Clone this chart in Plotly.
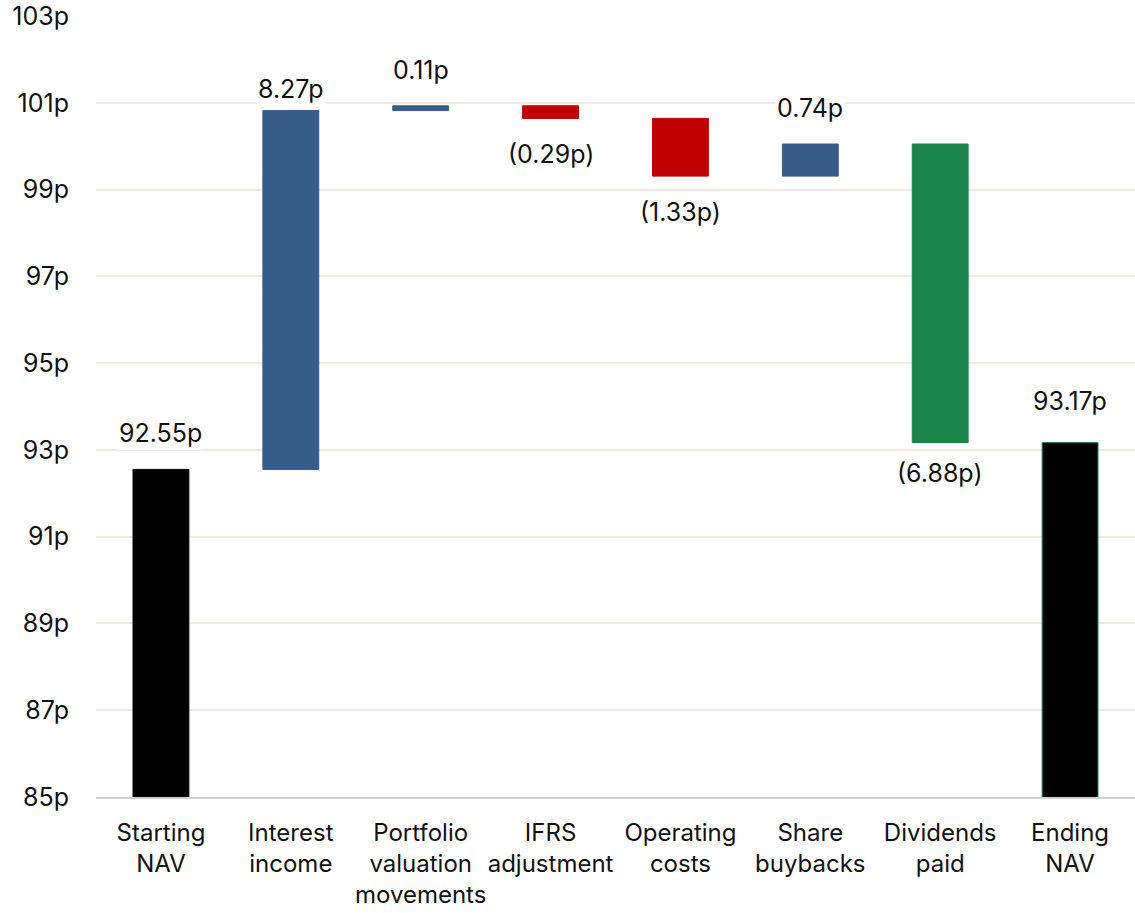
import plotly.graph_objects as go

categories = ["Starting<br>NAV", "Interest<br>income", "Portfolio<br>valuation<br>movements",
              "IFRS<br>adjustment", "Operating<br>costs", "Share<br>buybacks",
              "Dividends<br>paid", "Ending<br>NAV"]
values = [92.55, 8.27, 0.11, -0.29, -1.33, 0.74, -6.88, 93.17]
kinds = ["total", "relative", "relative", "relative", "relative", "relative", "relative", "total"]
bar_colors = ["#000000", "#365C8A", "#365C8A", "#C00000", "#C00000", "#365C8A", "#1A844A", "#000000"]
line_colors = ["#000000", "#365C8A", "#365C8A", "#C00000", "#C00000", "#365C8A", "#1A844A", "#1A844A"]
label_shift = [36, 22, 36, 36, 36, 36, 30, 42]

tick_vals = [85, 87, 89, 91, 93, 95, 97, 99, 101, 103]
tick_text = ["85p", "87p", "89p", "91p", "93p", "95p", "97p", "99p", "101p", "103p"]

bases, level = [], 0.0
for v, k in zip(values, kinds):
    if k == "total":
        bases.append(0.0)
        level = v
    else:
        bases.append(level)
        level = level + v

FONT = "Inter"
fig = go.Figure()
fig.add_trace(go.Bar(
    x=categories, y=values, base=bases,
    marker=dict(color=bar_colors, line=dict(color=line_colors, width=1)),
    width=0.43, hoverinfo="skip",
))

annotations = []
for c, v, b, k, s in zip(categories, values, bases, kinds, label_shift):
    end = b + v
    if k == "total" or v >= 0:
        txt = f"{v:.2f}p"
        ys = s
    else:
        txt = f"({abs(v):.2f}p)"
        ys = -s
    annotations.append(dict(x=c, y=end, text=txt, showarrow=False, yanchor="middle",
                            yshift=ys, bgcolor="white",
                            font=dict(family=FONT, size=25, color="#111111")))

fig.update_layout(
    width=1135, height=913,
    margin=dict(l=96, r=0, t=16, b=116),
    paper_bgcolor="white", plot_bgcolor="white",
    showlegend=False, bargap=0.57,
    annotations=annotations,
    font=dict(family=FONT, size=24, color="#111111"),
    xaxis=dict(showline=True, linecolor="#D0D0D0", linewidth=2, ticks="",
               tickangle=0, automargin=False,
               tickfont=dict(family=FONT, size=24, color="#111111"),
               ticklabelstandoff=13, showgrid=False),
    yaxis=dict(range=[85, 103], tickvals=tick_vals, ticktext=tick_text,
               showgrid=True, gridcolor="#EEEAE3", gridwidth=2, zeroline=False,
               automargin=False,
               tickfont=dict(family=FONT, size=25, color="#111111"),
               ticklabelstandoff=26, ticks=""),
)

fig.write_html("out.html")
